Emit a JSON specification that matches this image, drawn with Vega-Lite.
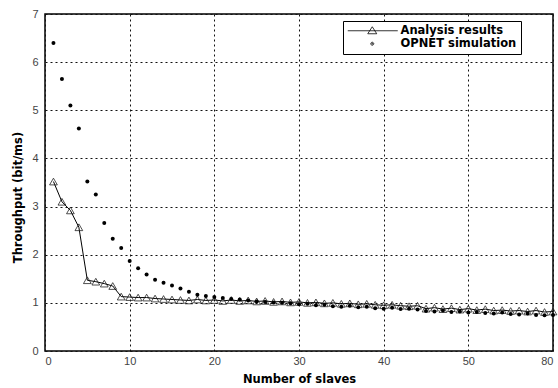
{
  "$schema": "https://vega.github.io/schema/vega-lite/v6.json",
  "width": 508,
  "height": 337,
  "autosize": {"type": "none"},
  "padding": {"left": 45, "top": 14, "right": 5, "bottom": 37},
  "background": "white",
  "config": {
    "view": {"stroke": "black", "strokeWidth": 1.5},
    "axis": {
      "domain": false,
      "ticks": false,
      "grid": true,
      "gridColor": "#111",
      "gridDash": [2, 3],
      "gridWidth": 1,
      "labelFont": "Liberation Sans",
      "labelFontSize": 11,
      "labelColor": "#444",
      "titleFont": "DejaVu Sans",
      "titleFontWeight": "bold",
      "titleFontSize": 11.5,
      "titleColor": "black"
    }
  },
  "datasets": {
    "series": [
      {"slaves": 1, "series": "Analysis results", "throughput": 3.52},
      {"slaves": 2, "series": "Analysis results", "throughput": 3.10},
      {"slaves": 3, "series": "Analysis results", "throughput": 2.92},
      {"slaves": 4, "series": "Analysis results", "throughput": 2.57},
      {"slaves": 5, "series": "Analysis results", "throughput": 1.47},
      {"slaves": 6, "series": "Analysis results", "throughput": 1.44},
      {"slaves": 7, "series": "Analysis results", "throughput": 1.40},
      {"slaves": 8, "series": "Analysis results", "throughput": 1.35},
      {"slaves": 9, "series": "Analysis results", "throughput": 1.13},
      {"slaves": 10, "series": "Analysis results", "throughput": 1.12},
      {"slaves": 11, "series": "Analysis results", "throughput": 1.11},
      {"slaves": 12, "series": "Analysis results", "throughput": 1.11},
      {"slaves": 13, "series": "Analysis results", "throughput": 1.09},
      {"slaves": 14, "series": "Analysis results", "throughput": 1.08},
      {"slaves": 15, "series": "Analysis results", "throughput": 1.07},
      {"slaves": 16, "series": "Analysis results", "throughput": 1.06},
      {"slaves": 17, "series": "Analysis results", "throughput": 1.05},
      {"slaves": 18, "series": "Analysis results", "throughput": 1.07},
      {"slaves": 19, "series": "Analysis results", "throughput": 1.05},
      {"slaves": 20, "series": "Analysis results", "throughput": 1.06},
      {"slaves": 21, "series": "Analysis results", "throughput": 1.04},
      {"slaves": 22, "series": "Analysis results", "throughput": 1.06},
      {"slaves": 23, "series": "Analysis results", "throughput": 1.04},
      {"slaves": 24, "series": "Analysis results", "throughput": 1.05},
      {"slaves": 25, "series": "Analysis results", "throughput": 1.03},
      {"slaves": 26, "series": "Analysis results", "throughput": 1.04},
      {"slaves": 27, "series": "Analysis results", "throughput": 1.02},
      {"slaves": 28, "series": "Analysis results", "throughput": 1.03},
      {"slaves": 29, "series": "Analysis results", "throughput": 1.01},
      {"slaves": 30, "series": "Analysis results", "throughput": 1.02},
      {"slaves": 31, "series": "Analysis results", "throughput": 1.00},
      {"slaves": 32, "series": "Analysis results", "throughput": 1.01},
      {"slaves": 33, "series": "Analysis results", "throughput": 0.99},
      {"slaves": 34, "series": "Analysis results", "throughput": 1.00},
      {"slaves": 35, "series": "Analysis results", "throughput": 0.98},
      {"slaves": 36, "series": "Analysis results", "throughput": 0.99},
      {"slaves": 37, "series": "Analysis results", "throughput": 0.97},
      {"slaves": 38, "series": "Analysis results", "throughput": 0.98},
      {"slaves": 39, "series": "Analysis results", "throughput": 0.96},
      {"slaves": 40, "series": "Analysis results", "throughput": 0.95},
      {"slaves": 41, "series": "Analysis results", "throughput": 0.96},
      {"slaves": 42, "series": "Analysis results", "throughput": 0.94},
      {"slaves": 43, "series": "Analysis results", "throughput": 0.93},
      {"slaves": 44, "series": "Analysis results", "throughput": 0.94},
      {"slaves": 45, "series": "Analysis results", "throughput": 0.88},
      {"slaves": 46, "series": "Analysis results", "throughput": 0.90},
      {"slaves": 47, "series": "Analysis results", "throughput": 0.87},
      {"slaves": 48, "series": "Analysis results", "throughput": 0.89},
      {"slaves": 49, "series": "Analysis results", "throughput": 0.86},
      {"slaves": 50, "series": "Analysis results", "throughput": 0.88},
      {"slaves": 51, "series": "Analysis results", "throughput": 0.85},
      {"slaves": 52, "series": "Analysis results", "throughput": 0.87},
      {"slaves": 53, "series": "Analysis results", "throughput": 0.84},
      {"slaves": 54, "series": "Analysis results", "throughput": 0.85},
      {"slaves": 55, "series": "Analysis results", "throughput": 0.83},
      {"slaves": 56, "series": "Analysis results", "throughput": 0.84},
      {"slaves": 57, "series": "Analysis results", "throughput": 0.82},
      {"slaves": 58, "series": "Analysis results", "throughput": 0.84},
      {"slaves": 59, "series": "Analysis results", "throughput": 0.81},
      {"slaves": 60, "series": "Analysis results", "throughput": 0.82},
      {"slaves": 1, "series": "OPNET simulation", "throughput": 6.40},
      {"slaves": 2, "series": "OPNET simulation", "throughput": 5.65},
      {"slaves": 3, "series": "OPNET simulation", "throughput": 5.10},
      {"slaves": 4, "series": "OPNET simulation", "throughput": 4.62},
      {"slaves": 5, "series": "OPNET simulation", "throughput": 3.52},
      {"slaves": 6, "series": "OPNET simulation", "throughput": 3.25},
      {"slaves": 7, "series": "OPNET simulation", "throughput": 2.66},
      {"slaves": 8, "series": "OPNET simulation", "throughput": 2.33},
      {"slaves": 9, "series": "OPNET simulation", "throughput": 2.14},
      {"slaves": 10, "series": "OPNET simulation", "throughput": 1.87},
      {"slaves": 11, "series": "OPNET simulation", "throughput": 1.72},
      {"slaves": 12, "series": "OPNET simulation", "throughput": 1.59},
      {"slaves": 13, "series": "OPNET simulation", "throughput": 1.48},
      {"slaves": 14, "series": "OPNET simulation", "throughput": 1.42},
      {"slaves": 15, "series": "OPNET simulation", "throughput": 1.36},
      {"slaves": 16, "series": "OPNET simulation", "throughput": 1.30},
      {"slaves": 17, "series": "OPNET simulation", "throughput": 1.23},
      {"slaves": 18, "series": "OPNET simulation", "throughput": 1.17},
      {"slaves": 19, "series": "OPNET simulation", "throughput": 1.14},
      {"slaves": 20, "series": "OPNET simulation", "throughput": 1.12},
      {"slaves": 21, "series": "OPNET simulation", "throughput": 1.10},
      {"slaves": 22, "series": "OPNET simulation", "throughput": 1.08},
      {"slaves": 23, "series": "OPNET simulation", "throughput": 1.07},
      {"slaves": 24, "series": "OPNET simulation", "throughput": 1.05},
      {"slaves": 25, "series": "OPNET simulation", "throughput": 1.03},
      {"slaves": 26, "series": "OPNET simulation", "throughput": 1.02},
      {"slaves": 27, "series": "OPNET simulation", "throughput": 1.01},
      {"slaves": 28, "series": "OPNET simulation", "throughput": 1.00},
      {"slaves": 29, "series": "OPNET simulation", "throughput": 0.99},
      {"slaves": 30, "series": "OPNET simulation", "throughput": 0.97},
      {"slaves": 31, "series": "OPNET simulation", "throughput": 0.98},
      {"slaves": 32, "series": "OPNET simulation", "throughput": 0.95},
      {"slaves": 33, "series": "OPNET simulation", "throughput": 0.96},
      {"slaves": 34, "series": "OPNET simulation", "throughput": 0.93},
      {"slaves": 35, "series": "OPNET simulation", "throughput": 0.92},
      {"slaves": 36, "series": "OPNET simulation", "throughput": 0.94},
      {"slaves": 37, "series": "OPNET simulation", "throughput": 0.91},
      {"slaves": 38, "series": "OPNET simulation", "throughput": 0.92},
      {"slaves": 39, "series": "OPNET simulation", "throughput": 0.89},
      {"slaves": 40, "series": "OPNET simulation", "throughput": 0.88},
      {"slaves": 41, "series": "OPNET simulation", "throughput": 0.90},
      {"slaves": 42, "series": "OPNET simulation", "throughput": 0.87},
      {"slaves": 43, "series": "OPNET simulation", "throughput": 0.88},
      {"slaves": 44, "series": "OPNET simulation", "throughput": 0.86},
      {"slaves": 45, "series": "OPNET simulation", "throughput": 0.83},
      {"slaves": 46, "series": "OPNET simulation", "throughput": 0.82},
      {"slaves": 47, "series": "OPNET simulation", "throughput": 0.84},
      {"slaves": 48, "series": "OPNET simulation", "throughput": 0.81},
      {"slaves": 49, "series": "OPNET simulation", "throughput": 0.82},
      {"slaves": 50, "series": "OPNET simulation", "throughput": 0.80},
      {"slaves": 51, "series": "OPNET simulation", "throughput": 0.81},
      {"slaves": 52, "series": "OPNET simulation", "throughput": 0.79},
      {"slaves": 53, "series": "OPNET simulation", "throughput": 0.78},
      {"slaves": 54, "series": "OPNET simulation", "throughput": 0.80},
      {"slaves": 55, "series": "OPNET simulation", "throughput": 0.77},
      {"slaves": 56, "series": "OPNET simulation", "throughput": 0.76},
      {"slaves": 57, "series": "OPNET simulation", "throughput": 0.78},
      {"slaves": 58, "series": "OPNET simulation", "throughput": 0.75},
      {"slaves": 59, "series": "OPNET simulation", "throughput": 0.74},
      {"slaves": 60, "series": "OPNET simulation", "throughput": 0.75}
    ]
  },
  "data": {"name": "series"},
  "encoding": {
    "x": {
      "field": "slaves",
      "type": "quantitative",
      "scale": {"domain": [0, 60], "nice": false, "zero": false},
      "axis": {
        "values": [0, 10, 20, 30, 40, 50, 60],
        "labelExpr": "datum.value == 60 ? '80' : datum.label",
        "labelPadding": 4,
        "title": "Number of slaves",
        "titleX": 254,
        "titleY": 28,
        "titleBaseline": "middle"
      }
    },
    "y": {
      "field": "throughput",
      "type": "quantitative",
      "scale": {"domain": [0, 7], "nice": false},
      "axis": {
        "values": [0, 1, 2, 3, 4, 5, 6, 7],
        "labelPadding": 7,
        "title": "Throughput (bit/ms)",
        "titleAngle": 270,
        "titleX": -27,
        "titleY": 183,
        "titleAlign": "center",
        "titleBaseline": "middle"
      }
    }
  },
  "layer": [
    {
      "transform": [{"filter": "datum.series == 'Analysis results'"}],
      "mark": {"type": "line", "color": "black", "strokeWidth": 1}
    },
    {
      "transform": [{"filter": "datum.series == 'Analysis results'"}],
      "mark": {"type": "point", "shape": "triangle-up", "filled": false, "color": "#222", "size": 60, "strokeWidth": 0.8, "opacity": 1}
    },
    {
      "transform": [{"filter": "datum.series == 'OPNET simulation'"}],
      "mark": {"type": "point", "shape": "circle", "filled": true, "color": "black", "size": 16, "opacity": 1}
    },
    {
      "mark": {"type": "point", "filled": false, "color": "black", "opacity": 0, "strokeWidth": 0.8},
      "encoding": {
        "shape": {
          "field": "series",
          "type": "nominal",
          "scale": {
            "domain": ["Analysis results", "OPNET simulation"],
            "range": ["M-1,0H9M3,0.6L3.9,-0.8L4.8,0.6Z", "M3.6,0A0.3,0.3 0 1,0 4.2,0A0.3,0.3 0 1,0 3.6,0ZM3.8,0A0.1,0.1 0 1,0 4.0,0A0.1,0.1 0 1,0 3.8,0Z"]
          },
          "legend": {
            "title": null,
            "orient": "none",
            "legendX": 298,
            "legendY": 7,
            "padding": 4,
            "fillColor": "white",
            "strokeColor": "black",
            "symbolSize": 100,
            "symbolOpacity": 1,
            "symbolFillColor": "transparent",
            "symbolStrokeColor": "black",
            "symbolStrokeWidth": 0.8,
            "labelOffset": 42,
            "labelFont": "DejaVu Sans",
            "labelFontSize": 11.5,
            "labelFontWeight": "bold",
            "labelColor": "black",
            "rowPadding": 0
          }
        }
      }
    }
  ]
}
